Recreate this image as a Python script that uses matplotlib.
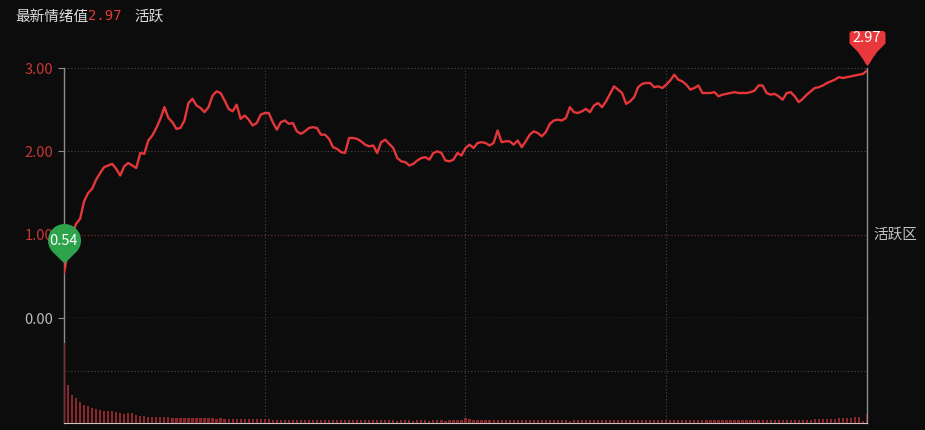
import numpy as np
import matplotlib
matplotlib.use('Agg')
import matplotlib.pyplot as plt
from matplotlib.path import Path

plt.rcParams['font.family'] = ['Noto Sans CJK SC', 'DejaVu Sans']

# sentiment value, one point per sample
values = [0.54, 0.80, 1.00, 1.13, 1.19, 1.40, 1.50, 1.55, 1.66, 1.74,
          1.81, 1.83, 1.85, 1.79, 1.71, 1.82, 1.86, 1.83, 1.80, 1.98,
          1.97, 2.13, 2.19, 2.28, 2.39, 2.53, 2.40, 2.35, 2.27, 2.28,
          2.37, 2.58, 2.63, 2.55, 2.52, 2.47, 2.53, 2.67, 2.72, 2.70,
          2.61, 2.51, 2.48, 2.56, 2.39, 2.43, 2.38, 2.31, 2.34, 2.44,
          2.46, 2.46, 2.35, 2.26, 2.35, 2.37, 2.33, 2.34, 2.24, 2.21,
          2.24, 2.28, 2.29, 2.28, 2.20, 2.20, 2.15, 2.05, 2.03, 1.99,
          1.98, 2.16, 2.16, 2.15, 2.12, 2.08, 2.06, 2.07, 1.98, 2.11,
          2.14, 2.09, 2.04, 1.92, 1.88, 1.87, 1.83, 1.85, 1.89, 1.92,
          1.93, 1.90, 1.98, 2.00, 1.98, 1.89, 1.88, 1.90, 1.98, 1.95,
          2.04, 2.08, 2.04, 2.10, 2.11, 2.10, 2.07, 2.10, 2.25, 2.11,
          2.12, 2.12, 2.08, 2.13, 2.05, 2.12, 2.20, 2.24, 2.22, 2.18,
          2.23, 2.33, 2.37, 2.38, 2.37, 2.40, 2.53, 2.47, 2.46, 2.48,
          2.51, 2.47, 2.55, 2.58, 2.53, 2.60, 2.69, 2.78, 2.74, 2.70,
          2.57, 2.60, 2.65, 2.77, 2.81, 2.82, 2.82, 2.77, 2.78, 2.76,
          2.80, 2.85, 2.92, 2.86, 2.84, 2.80, 2.74, 2.76, 2.79, 2.70,
          2.70, 2.70, 2.71, 2.66, 2.68, 2.69, 2.70, 2.71, 2.70, 2.70,
          2.70, 2.71, 2.73, 2.79, 2.79, 2.70, 2.68, 2.69, 2.66, 2.62,
          2.70, 2.71, 2.66, 2.59, 2.63, 2.68, 2.72, 2.76, 2.77, 2.79,
          2.82, 2.84, 2.86, 2.89, 2.88, 2.89, 2.90, 2.91, 2.92, 2.93, 2.97]

# volume bars in the lower panel
volume = [76, 36, 27, 24, 20, 17, 16, 14, 13, 12,
          11.5, 11, 11, 10.5, 9.5, 9, 9.5, 9.5, 8, 7,
          6.5, 6, 6, 6, 5.5, 5.5, 5.5, 5, 5, 5,
          5, 5, 5, 4.5, 5, 4.5, 4.5, 4.5, 4, 4.5,
          4, 4, 4, 4, 3.5, 4, 3.5, 3.5, 3.5, 3.5,
          3.5, 3.5, 3, 3, 3, 3, 3, 3, 3, 3,
          3, 3, 3, 2.5, 3, 3, 2.5, 2.5, 3, 2.5,
          2.5, 2.5, 2.5, 2.5, 2.5, 2.5, 2.5, 2.5, 2.5, 2.5,
          2.5, 2.5, 2.5, 2, 2.5, 2.5, 2.5, 2, 2.5, 2.5,
          2.5, 2, 2.5, 2.5, 2.5, 2, 2.5, 2.5, 2.5, 2.5,
          5, 3.5, 3, 3, 2.5, 3, 2.5, 2.5, 3, 2.5,
          2.5, 2.5, 2.5, 2.5, 2.5, 2.5, 2.5, 2.5, 2.5, 2.5,
          2.5, 2.5, 2.5, 2.5, 2.5, 2.5, 2, 2.5, 2.5, 2.5,
          2.5, 2.5, 2.5, 2.5, 2.5, 2.5, 2.5, 3, 2.5, 2.5,
          2.5, 2.5, 2.5, 2.5, 2.5, 2.5, 2.5, 2.5, 2.5, 2.5,
          2.5, 2.5, 2.5, 2.5, 2.5, 2.5, 2.5, 2.5, 2.5, 2.5,
          2.5, 2.5, 2.5, 2.5, 2.5, 2.5, 2.5, 2.5, 2.5, 2.5,
          2.5, 2.5, 2.5, 2.5, 2.5, 2.5, 2.5, 3, 3, 2.5,
          3, 3, 3, 3, 3, 3, 3, 3.5, 3.5, 3.5,
          3.5, 4, 4, 4.5, 4.5, 5, 5, 5.5, 6, 2, 9]

y_ticks = [0, 1, 2, 3]
y_labels = ['0.00', '1.00', '2.00', '3.00']
title = '最新情绪值'
zone = '活跃'
zone_line = '活跃区'

bg = '#0c0c0c'
red = '#e5373b'
grid = '#4a4a4a'
px = 72 / 100  # points per pixel

fig = plt.figure(figsize=(9.25, 4.3), dpi=100, facecolor=bg)
ax = fig.add_axes([64 / 925, 112 / 430, 803 / 925, 250 / 430], facecolor=bg)
axv = fig.add_axes([64 / 925, 7 / 430, 803 / 925, 105 / 430], facecolor=bg)

x = np.arange(len(values))
ax.plot(x, values, color=red, lw=1.7, zorder=3, solid_joinstyle='round')
ax.set_xlim(0, len(values) - 1)
ax.set_ylim(0, 3)

axv.bar(x, volume, width=0.55, color='#8a262c', linewidth=0, zorder=3)
axv.set_xlim(0, len(values) - 1)
axv.set_ylim(0, 100)

# grid
dots = (0, (1, 2))
for yv in [2, 3]:
    ax.axhline(yv, color=grid, ls=dots, lw=0.8, clip_on=False, zorder=1)
ax.axhline(1, color='#8e2a2a', ls=dots, lw=0.8, zorder=1)
ax.axhline(0, color='#bdbdbd', ls=dots, lw=0.9, clip_on=False, zorder=1)
axv.axhline(50, color=grid, ls=dots, lw=0.8, zorder=1)
for xv in [50, 100, 150]:
    ax.axvline(xv, color=grid, ls=dots, lw=0.8, zorder=1)
    axv.axvline(xv, color=grid, ls=dots, lw=0.8, zorder=1)

# axes styling
ax.set_yticks(y_ticks, y_labels)
ax.tick_params(axis='y', length=4.3, width=0.8, color='#8c8c8c', pad=3.5, labelsize=10.5)
for lab, col in zip(ax.get_yticklabels(), ['#bdbdbd', '#c83636', '#c83636', '#c83636']):
    lab.set_color(col)
for a in (ax, axv):
    a.tick_params(axis='x', bottom=False, labelbottom=False)
    a.spines['top'].set_visible(False)
    for s in ('left', 'right'):
        a.spines[s].set_color('#8c8c8c')
        a.spines[s].set_linewidth(1.0)
ax.spines['bottom'].set_visible(False)
axv.spines['bottom'].set_color('#cfc3c3')
axv.set_yticks([])

ax.annotate(zone_line, xy=(1, 1), xycoords=('axes fraction', 'data'),
            xytext=(6 * px, 0), textcoords='offset points',
            ha='left', va='center', color='#c4c4c4', fontsize=10.5)

# header text
fig.text(15 / 925, 1 - 17 / 430, title, color='#dcdcdc', fontsize=10.5, va='center')
fig.text(88 / 925, 1 - 16 / 430, f'{values[-1]:.2f}', color='#e03a3a',
         family='DejaVu Sans Mono', fontsize=10, va='center')
fig.text(134 / 925, 1 - 17 / 430, zone, color='#dcdcdc', fontsize=10.5, va='center')

# green pin at the first point (path in pixels, origin = data point)
th = np.radians(np.linspace(-44.1, 224.1, 60))
gverts = [(0, 10)] + list(zip(16.5 * np.cos(th), 33 + 16.5 * np.sin(th))) + [(0, 10)]
gpin = Path(gverts, closed=True)
gr = np.max(np.abs(gverts))
ax.plot(x[0], values[0], marker=gpin, ms=2 * gr * px, mfc='#2da34b', mec='none',
        clip_on=False, zorder=5)
ax.annotate(f'{values[0]:.2f}', xy=(x[0], values[0]), xytext=(0, 32 * px),
            textcoords='offset points', ha='center', va='center', color='white',
            fontsize=10.5, zorder=6, annotation_clip=False)

# red pin at the last point
rverts = [(-16, 40.5), (16, 40.5), (18, 38.5), (18, 28), (10, 20), (5, 13), (2, 8),
          (0, 5.5), (-2, 8), (-5, 13), (-10, 20), (-18, 28), (-18, 38.5), (-16, 40.5)]
rpin = Path(rverts, closed=True)
rr = np.max(np.abs(rverts))
ax.plot(x[-1], values[-1], marker=rpin, ms=2 * rr * px, mfc='#e8383c', mec='none',
        clip_on=False, zorder=5)
ax.annotate(f'{values[-1]:.2f}', xy=(x[-1], values[-1]), xytext=(0, 32 * px),
            textcoords='offset points', ha='center', va='center', color='white',
            fontsize=10.5, zorder=6, annotation_clip=False)

fig.savefig('out.png', dpi=100, facecolor=bg)
